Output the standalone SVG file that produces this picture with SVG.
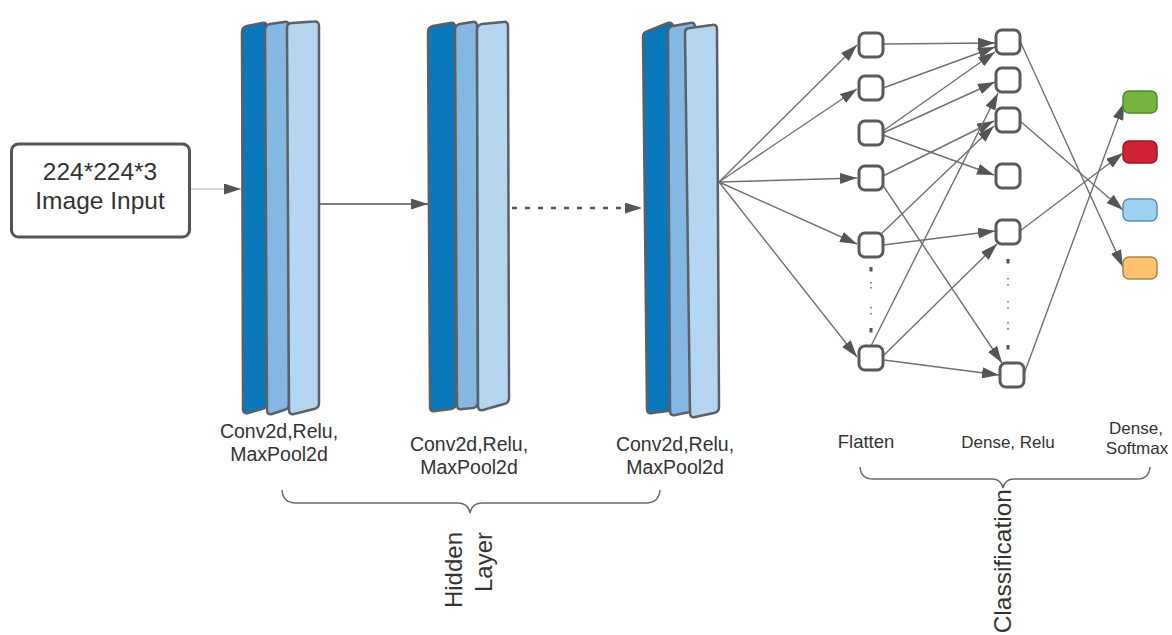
<svg xmlns="http://www.w3.org/2000/svg" width="1172" height="635" viewBox="0 0 1172 635">
  <defs>
    <marker id="ah" viewBox="0 0 17 11" refX="17" refY="5.5" markerWidth="17" markerHeight="11" markerUnits="userSpaceOnUse" orient="auto">
      <path d="M0,0 L17,5.5 L0,11 z" fill="#555"/>
    </marker>
    <style>
      .lbl { font-family: "Liberation Sans", Arial, sans-serif; fill: #333; text-anchor: middle; }
      .bar { stroke: #5a6066; stroke-width: 2.5; stroke-linejoin: round; }
      .b1 { fill: #0a78bd; }
      .b2 { fill: #84b8e3; }
      .b3 { fill: #b4d6f1; }
      .node { fill: #fff; stroke: #5a5a5a; stroke-width: 3; }
      .out { stroke-width: 1.5; }
      .edge { stroke: #707070; stroke-width: 1.4; fill: none; marker-end: url(#ah); }
      .plain { stroke: #707070; stroke-width: 1.4; fill: none; }
      .brace { stroke: #6a6a6a; stroke-width: 1.5; fill: none; }
      .dot { fill: #555; }
      .tick { fill: #8a8a8a; }
    </style>
  </defs>

  <!-- input -->
  <g id="input">
    <rect x="11.5" y="144" width="178" height="93" rx="7" fill="#fff" stroke="#555" stroke-width="3"/>
    <text class="lbl" x="100" y="180" font-size="24.5">224*224*3</text>
    <text class="lbl" x="100" y="209" font-size="24.5">Image Input</text>
  </g>

  <!-- convolution block 1 -->
  <g id="conv1">
    <path class="bar b1" d="M242,32 Q242,27 247,26 L262,23 Q267,22 267,27 L267,403 Q267,408 262,409 L248,413 Q243,414 243,409 Z"/>
    <path class="bar b2" d="M265,30 Q265,25 270,24 L284,22 Q289,21 289,26 L289,404 Q289,409 284,410 L272,414 Q267,415 267,410 Z"/>
    <path class="bar b3" d="M287,28 Q287,23 292,23 L314,21.5 Q319,21 319,26 L319,403 Q319,408 314,409 L294,414 Q289,415 289,410 Z"/>
    <text class="lbl" x="279" y="438" font-size="19.5">Conv2d,Relu,</text>
    <text class="lbl" x="279" y="461" font-size="19.5">MaxPool2d</text>
  </g>

  <!-- convolution block 2 -->
  <g id="conv2">
    <path class="bar b1" d="M428,32 Q428,27 433,26 L450,23 Q455,22 455,27 L456,403 Q456,408 451,409 L435,411 Q430,412 430,407 Z"/>
    <path class="bar b2" d="M455,30 Q455,25 460,24 L472,22 Q477,21 477,26 L478,402 Q478,407 473,408 L462,409 Q457,410 457,405 Z"/>
    <path class="bar b3" d="M477,30 Q477,25 482,24 L503,22 Q508,21 508,26 L509,398 Q509,403 504,404 L483,410 Q478,411 478,406 Z"/>
    <text class="lbl" x="469" y="451" font-size="19.5">Conv2d,Relu,</text>
    <text class="lbl" x="469" y="474" font-size="19.5">MaxPool2d</text>
  </g>

  <!-- convolution block 3 -->
  <g id="conv3">
    <path class="bar b1" d="M643,37 Q643,32 648,31 L668,23 Q673,22 673,27 L673,405 Q673,410 668,411 L652,413 Q647,414 647,409 Z"/>
    <path class="bar b2" d="M668,32 Q668,27 673,26 L690,23 Q695,22 695,27 L695,406 Q695,411 690,412 L675,415 Q670,416 670,411 Z"/>
    <path class="bar b3" d="M685,33 Q685,28 690,28 L712,25 Q717,24 717,29 L719,407 Q719,412 714,413 L695,417 Q690,418 690,413 Z"/>
    <text class="lbl" x="675" y="451" font-size="19.5">Conv2d,Relu,</text>
    <text class="lbl" x="675" y="474" font-size="19.5">MaxPool2d</text>
  </g>

  <!-- connectors -->
  <g id="connectors">
    <line x1="191" y1="189" x2="241" y2="189" stroke="#aaa" stroke-width="1.2" marker-end="url(#ah)"/>
    <line x1="319" y1="204" x2="428" y2="204" stroke="#555" stroke-width="1.6" marker-end="url(#ah)"/>
    <line x1="512" y1="208" x2="642" y2="208" stroke="#555" stroke-width="2.6" stroke-dasharray="5 8" marker-end="url(#ah)"/>

    <!-- fan-out into the flatten layer -->
    <line class="edge" x1="719" y1="182" x2="857" y2="45"/>
    <line class="edge" x1="719" y1="182" x2="857" y2="89"/>
    <line class="edge" x1="719" y1="182" x2="857" y2="178"/>
    <line class="edge" x1="719" y1="182" x2="857" y2="244"/>
    <line class="edge" x1="719" y1="182" x2="857" y2="357"/>

    <!-- flatten to dense -->
    <line class="edge" x1="883" y1="44" x2="995" y2="43"/>
    <line class="edge" x1="883" y1="88" x2="995" y2="47"/>
    <line class="edge" x1="883" y1="131" x2="995" y2="52"/>
    <line class="edge" x1="883" y1="133" x2="995" y2="82"/>
    <line class="edge" x1="883" y1="135" x2="994" y2="175"/>
    <line class="edge" x1="883" y1="176" x2="994" y2="121"/>
    <line class="edge" x1="882" y1="184" x2="1002" y2="363"/>
    <line class="edge" x1="881" y1="234" x2="994" y2="126"/>
    <line class="edge" x1="883" y1="245" x2="995" y2="231"/>
    <line class="edge" x1="871" y1="346" x2="998" y2="93"/>
    <line class="edge" x1="883" y1="356" x2="997" y2="244"/>
    <line class="edge" x1="884" y1="360" x2="999" y2="375"/>

    <!-- dense to softmax outputs -->
    <line class="edge" x1="1020" y1="41" x2="1123" y2="267"/>
    <line class="edge" x1="1020" y1="121" x2="1123" y2="210"/>
    <line class="edge" x1="1020" y1="231" x2="1123" y2="153"/>
    <line class="edge" x1="1024" y1="374" x2="1124" y2="103"/>
  </g>

  <!-- flatten layer -->
  <g id="flatten">
    <rect class="node" x="859" y="33" width="24" height="24" rx="6"/>
    <rect class="node" x="859" y="76" width="24" height="24" rx="6"/>
    <rect class="node" x="859" y="121" width="24" height="24" rx="6"/>
    <rect class="node" x="859" y="166" width="24" height="24" rx="6"/>
    <rect class="node" x="859" y="233" width="24" height="24" rx="6"/>
    <rect class="node" x="859" y="346" width="24" height="24" rx="6"/>
    <rect class="dot" x="869.5" y="267" width="3" height="4.5"/>
    <rect class="tick" x="870" y="282" width="2" height="1.5"/>
    <rect class="tick" x="870" y="287" width="2" height="1.5"/>
    <rect class="tick" x="870" y="307" width="2" height="1.5"/>
    <rect class="tick" x="870" y="313" width="2" height="1.5"/>
    <rect class="dot" x="869.5" y="328" width="3" height="4.5"/>
    <text class="lbl" x="866" y="448" font-size="18.5">Flatten</text>
  </g>

  <!-- dense relu layer -->
  <g id="dense">
    <rect class="node" x="996" y="30" width="24" height="24" rx="6"/>
    <rect class="node" x="996" y="68" width="24" height="24" rx="6"/>
    <rect class="node" x="996" y="108" width="24" height="24" rx="6"/>
    <rect class="node" x="996" y="164" width="24" height="24" rx="6"/>
    <rect class="node" x="996" y="220" width="24" height="24" rx="6"/>
    <rect class="node" x="1000" y="363" width="24" height="24" rx="6"/>
    <rect class="dot" x="1006.5" y="259" width="3" height="4.5"/>
    <rect class="tick" x="1007" y="278" width="2" height="1.5"/>
    <rect class="tick" x="1007" y="284" width="2" height="1.5"/>
    <rect class="tick" x="1007" y="301" width="2" height="1.5"/>
    <rect class="tick" x="1007" y="307" width="2" height="1.5"/>
    <rect class="tick" x="1007" y="322" width="2" height="1.5"/>
    <rect class="tick" x="1007" y="328" width="2" height="1.5"/>
    <rect class="dot" x="1006.5" y="345" width="3" height="4.5"/>
    <text class="lbl" x="1008" y="448" font-size="17">Dense, Relu</text>
  </g>

  <!-- softmax outputs -->
  <g id="softmax">
    <rect class="out" x="1123" y="91" width="34" height="22" rx="6" fill="#73b43f" stroke="#4d8a2a"/>
    <rect class="out" x="1123" y="141" width="34" height="22" rx="6" fill="#cf2232" stroke="#9a1a25"/>
    <rect class="out" x="1123" y="199" width="34" height="22" rx="6" fill="#9fd2f0" stroke="#5d8fb3"/>
    <rect class="out" x="1123" y="257" width="34" height="22" rx="6" fill="#fec36f" stroke="#a88650"/>
    <text class="lbl" x="1136" y="434" font-size="17">Dense,</text>
    <text class="lbl" x="1137" y="454" font-size="17">Softmax</text>
  </g>

  <!-- hidden layer brace -->
  <g id="hidden-layer">
    <path class="brace" d="M282,490 Q283,503 296,503 L458,503 Q468,503 470,513 Q472,503 482,503 L646,503 Q659,503 660,490"/>
    <text class="lbl" transform="translate(462,532) rotate(-90)" style="text-anchor:end" font-size="24">Hidden</text>
    <text class="lbl" transform="translate(492,532) rotate(-90)" style="text-anchor:end" font-size="24">Layer</text>
  </g>

  <!-- classification brace -->
  <g id="classification">
    <path class="brace" d="M860,467 Q861,479 873,479 L992,479 Q1001,479 1003,488 Q1005,479 1014,479 L1137,479 Q1149,479 1150,467"/>
    <text class="lbl" transform="translate(1011,489) rotate(-90)" style="text-anchor:end" font-size="24.5">Classification</text>
  </g>
</svg>
